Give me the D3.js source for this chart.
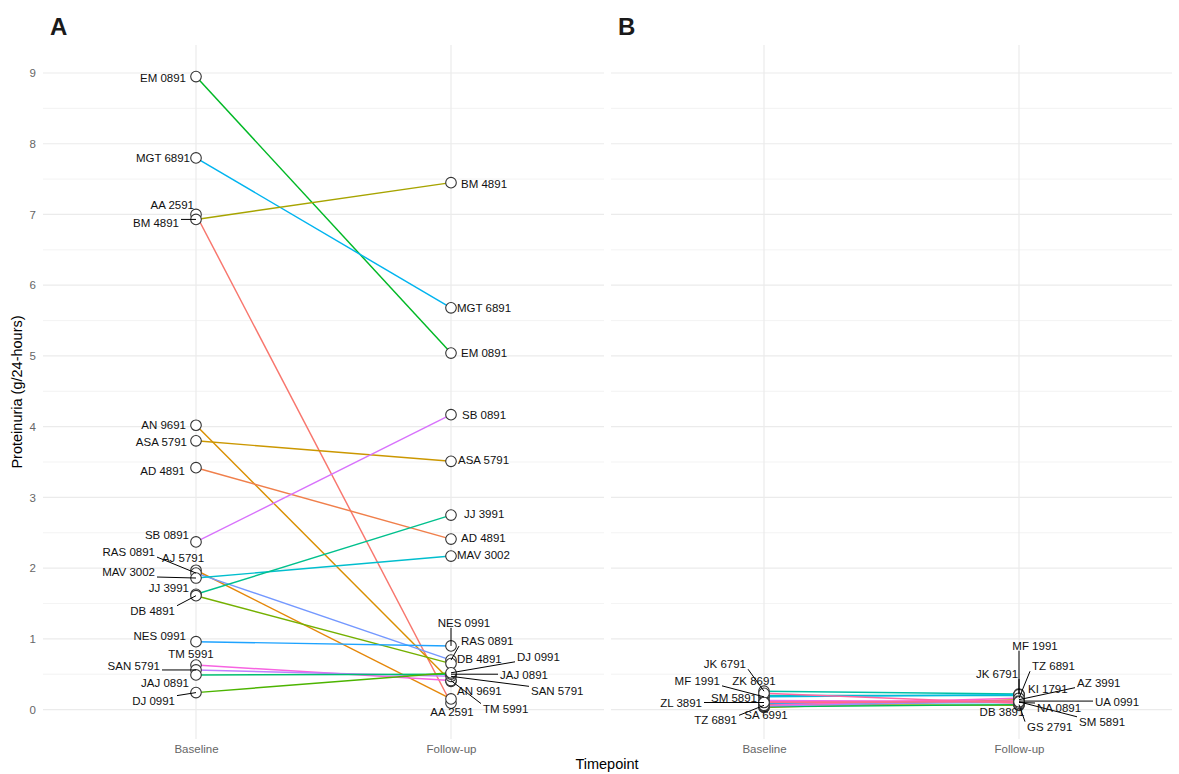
<!DOCTYPE html>
<html>
<head>
<meta charset="utf-8">
<script src="https://cdn.jsdelivr.net/npm/d3@7"></script>
<style>
  html, body { margin: 0; padding: 0; background: #fff; }
  svg { display: block; font-family: "Liberation Sans", Arial, Helvetica, sans-serif; }
</style>
</head>
<body>
<svg id="chart" width="1179" height="774"></svg>
<script>
// ---- data -------------------------------------------------------------
const timepoints = ["Baseline", "Follow-up"];
const yTicks = [0, 1, 2, 3, 4, 5, 6, 7, 8, 9];

// Panel A patients: proteinuria (g/24-hours)
const idsA = ["EM 0891", "MGT 6891", "AA 2591", "BM 4891", "AN 9691", "ASA 5791",
  "AD 4891", "SB 0891", "AJ 5791", "RAS 0891", "MAV 3002", "JJ 3991", "DB 4891",
  "NES 0991", "TM 5991", "SAN 5791", "JAJ 0891", "DJ 0991"];
const baselineA = [8.95, 7.80, 7.00, 6.93, 4.02, 3.80, 3.42, 2.37, 1.97, 1.93, 1.86,
  1.63, 1.61, 0.96, 0.63, 0.56, 0.49, 0.24];
const followupA = [5.04, 5.68, 0.09, 7.45, 0.40, 3.51, 2.41, 4.17, 0.15, 0.70, 2.17,
  2.75, 0.65, 0.90, 0.41, 0.47, 0.50, 0.52];

// Panel B patients
const idsB = ["AZ 3991", "DB 3891", "GS 2791", "JK 6791", "KI 1791", "MF 1991",
  "NA 0891", "SA 6991", "SM 5891", "TZ 6891", "UA 0991", "ZK 8691", "ZL 3891"];
const baselineB = [0.03, 0.07, 0.04, 0.26, 0.20, 0.18, 0.09, 0.05, 0.13, 0.06, 0.11, 0.23, 0.10];
const followupB = [0.14, 0.06, 0.07, 0.22, 0.20, 0.21, 0.10, 0.12, 0.11, 0.16, 0.12, 0.09, 0.11];

// ---- label layout (pixel nudges from each point: dx, dy, text-anchor) --
const labelsA = {
  "Baseline": {
    "EM 0891": [-10, 1, "end"], "MGT 6891": [-6, 0, "end"], "AA 2591": [-2, -9, "end"],
    "BM 4891": [-17, 4, "end"], "AN 9691": [-10, 0, "end"], "ASA 5791": [-9, 1, "end"],
    "AD 4891": [-11, 3, "end"], "SB 0891": [-7, -7, "end"], "AJ 5791": [-13, -12, "middle"],
    "RAS 0891": [-41, -21, "end"], "MAV 3002": [-41, -6, "end"], "JJ 3991": [-7, -6, "end"],
    "DB 4891": [-21, 15, "end"], "NES 0991": [-10, -6, "end"], "TM 5991": [-5, -11, "middle"],
    "SAN 5791": [-36, -4, "end"], "JAJ 0891": [-7, 8, "end"], "DJ 0991": [-21, 8, "end"]
  },
  "Follow-up": {
    "BM 4891": [10, 1, "start"], "MGT 6891": [6, 0, "start"], "EM 0891": [10, 0, "start"],
    "SB 0891": [11, 0, "start"], "ASA 5791": [7, -1, "start"], "JJ 3991": [13, -1, "start"],
    "AD 4891": [10, -1, "start"], "MAV 3002": [6, -1, "start"], "NES 0991": [13, -23, "middle"],
    "RAS 0891": [10, -19, "start"], "DB 4891": [6, -5, "start"], "DJ 0991": [66, -16, "start"],
    "JAJ 0891": [49, 1, "start"], "SAN 5791": [80, 15, "start"], "AN 9691": [6, 10, "start"],
    "TM 5991": [32, 28, "start"], "AA 2591": [1, 9, "middle"]
  }
};
const labelsB = {
  "Baseline": {
    "JK 6791": [-18, -27, "end"], "MF 1991": [-44, -16, "end"], "ZK 8691": [-10, -12, "middle"],
    "SM 5891": [-30, -2, "middle"], "ZL 3891": [-62, 0, "end"], "SA 6991": [2, 9, "middle"],
    "TZ 6891": [-27, 15, "end"]
  },
  "Follow-up": {
    "MF 1991": [16, -49, "middle"], "TZ 6891": [13, -32, "start"], "JK 6791": [-22, -20, "middle"],
    "KI 1791": [9, -6, "start"], "AZ 3991": [58, -17, "start"], "UA 0991": [76, 1, "start"],
    "NA 0891": [18, 5.5, "start"], "DB 3891": [-17, 7, "middle"], "GS 2791": [8, 22, "start"],
    "SM 5891": [60, 20, "start"]
  }
};

// ---- colours: evenly spaced hues in polar LUV (l = 65, c = 100) ---------
function hueColour(h) {
  const L = 65, C = 100, hr = h * Math.PI / 180;
  const U = C * Math.cos(hr), V = C * Math.sin(hr);
  const Xn = 95.047, Yn = 100, Zn = 108.883;
  const den = Xn + 15 * Yn + 3 * Zn;
  const un = 4 * Xn / den, vn = 9 * Yn / den;
  const Y = Yn * Math.pow((L + 16) / 116, 3);
  const u = U / (13 * L) + un, v = V / (13 * L) + vn;
  const X = 9 * Y * u / (4 * v);
  const Z = 3 * Y / v - X / 3 - 5 * Y;
  const x = X / 100, y = Y / 100, z = Z / 100;
  const lin = [
     3.240479 * x - 1.537150 * y - 0.498535 * z,
    -0.969256 * x + 1.875992 * y + 0.041556 * z,
     0.055648 * x - 0.204043 * y + 1.057311 * z
  ];
  const gam = c => {
    c = c <= 0.0031308 ? 12.92 * c : 1.055 * Math.pow(c, 1 / 2.4) - 0.055;
    return Math.round(Math.max(0, Math.min(1, c)) * 255);
  };
  return d3.rgb(gam(lin[0]), gam(lin[1]), gam(lin[2])).formatHex();
}
const allIds = idsA.concat(idsB).slice().sort();
const colour = d3.scaleOrdinal()
  .domain(allIds)
  .range(allIds.map((d, i) => hueColour(15 + 360 * i / allIds.length)));

// ---- layout ------------------------------------------------------------
const svg = d3.select("#chart");
const panelTop = 45, panelBottom = 739;
const panels = [
  { tag: "A", left: 43, right: 604, ids: idsA, base: baselineA, fol: followupA, labels: labelsA, yLabels: true },
  { tag: "B", left: 611, right: 1172, ids: idsB, base: baselineB, fol: followupB, labels: labelsB, yLabels: false }
];

// shared y scale, 5% expansion around the full data range
const allVals = baselineA.concat(followupA, baselineB, followupB);
const [vMin, vMax] = d3.extent(allVals);
const pad = (vMax - vMin) * 0.05;
const y = d3.scaleLinear().domain([vMin - pad, vMax + pad]).range([panelBottom, panelTop]);
const minorTicks = d3.range(0.5, 9.5, 1).filter(v => v > y.domain()[0] && v < y.domain()[1]);

panels.forEach(p => {
  const x = d3.scalePoint().domain(timepoints).range([p.left, p.right]).padding(0.6);
  const g = svg.append("g");

  // grid
  g.append("g").selectAll("line").data(minorTicks).join("line")
    .attr("x1", p.left).attr("x2", p.right)
    .attr("y1", d => y(d)).attr("y2", d => y(d))
    .attr("stroke", "#ebebeb").attr("stroke-width", 0.6);
  g.append("g").selectAll("line").data(yTicks).join("line")
    .attr("x1", p.left).attr("x2", p.right)
    .attr("y1", d => y(d)).attr("y2", d => y(d))
    .attr("stroke", "#ebebeb").attr("stroke-width", 1.2);
  g.append("g").selectAll("line").data(timepoints).join("line")
    .attr("x1", d => x(d)).attr("x2", d => x(d))
    .attr("y1", panelTop).attr("y2", panelBottom)
    .attr("stroke", "#ebebeb").attr("stroke-width", 1.2);

  // axes (text only)
  const xAxis = d3.axisBottom(x).tickSize(0).tickPadding(0);
  const xa = g.append("g").attr("transform", `translate(0,${panelBottom + 4})`).call(xAxis);
  xa.select(".domain").remove();
  xa.selectAll("text").attr("fill", "#666").attr("font-size", 11.5)
    .attr("dy", "0.9em").attr("font-family", "Liberation Sans, Arial, sans-serif");

  if (p.yLabels) {
    const yAxis = d3.axisLeft(y).tickValues(yTicks).tickSize(0).tickPadding(0);
    const ya = g.append("g").attr("transform", `translate(${p.left - 7},0)`).call(yAxis);
    ya.select(".domain").remove();
    ya.selectAll("text").attr("fill", "#666").attr("font-size", 11.5)
      .attr("font-family", "Liberation Sans, Arial, sans-serif");
  }

  // tag
  svg.append("text").attr("x", p.left + 7).attr("y", 35)
    .attr("font-size", 24).attr("font-weight", "bold").attr("fill", "#1a1a1a")
    .text(p.tag);

  const rows = p.ids.map((id, i) => ({ id, values: [
    { t: "Baseline", v: p.base[i] }, { t: "Follow-up", v: p.fol[i] }] }));

  // lines
  const line = d3.line().x(d => x(d.t)).y(d => y(d.v));
  g.append("g").selectAll("path").data(rows).join("path")
    .attr("d", d => line(d.values))
    .attr("fill", "none").attr("stroke", d => colour(d.id)).attr("stroke-width", 1.45);

  // points
  const pts = rows.flatMap(r => r.values.map(v => ({ id: r.id, t: v.t, v: v.v })));
  g.append("g").selectAll("circle").data(pts).join("circle")
    .attr("cx", d => x(d.t)).attr("cy", d => y(d.v)).attr("r", 5.3)
    .attr("fill", "#fff").attr("stroke", "#333").attr("stroke-width", 1.1);

  // repelled labels with leader segments
  const lg = g.append("g");
  pts.forEach(d => {
    const cfg = p.labels[d.t][d.id];
    if (!cfg) return;
    const px = x(d.t), py = y(d.v);
    const t = lg.append("text")
      .attr("x", px + cfg[0]).attr("y", py + cfg[1])
      .attr("text-anchor", cfg[2]).attr("dominant-baseline", "central")
      .attr("font-size", 11.5).attr("fill", "#111").text(d.id);
    const bb = t.node().getBBox();
    const bx0 = bb.x - 2, bx1 = bb.x + bb.width + 2;
    const by0 = bb.y + 1, by1 = bb.y + bb.height - 1;
    const nx = Math.max(bx0, Math.min(px, bx1));
    const ny = Math.max(by0, Math.min(py, by1));
    if (Math.hypot(nx - px, ny - py) > 12) {
      lg.insert("line", "text")
        .attr("x1", nx).attr("y1", ny).attr("x2", px).attr("y2", py)
        .attr("stroke", "#000").attr("stroke-width", 1);
    }
  });
});

// axis titles
svg.append("text").attr("x", 607).attr("y", 764)
  .attr("text-anchor", "middle").attr("dominant-baseline", "central")
  .attr("font-size", 14.5).attr("fill", "#000").text("Timepoint");
svg.append("text")
  .attr("transform", `translate(17,${(panelTop + panelBottom) / 2}) rotate(-90)`)
  .attr("text-anchor", "middle").attr("dominant-baseline", "central")
  .attr("font-size", 14.5).attr("fill", "#000").text("Proteinuria (g/24-hours)");
</script>
</body>
</html>
